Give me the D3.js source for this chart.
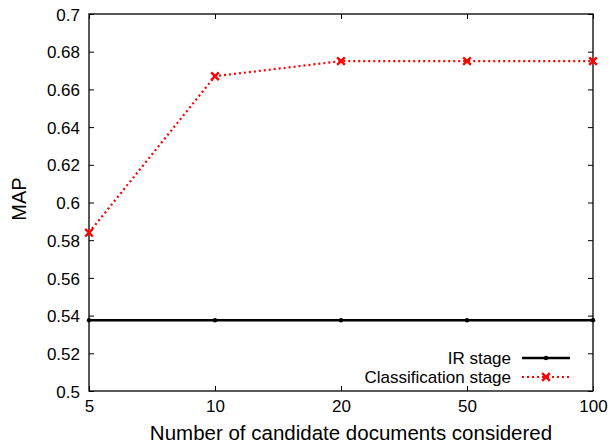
<!DOCTYPE html>
<html>
<head>
<meta charset="utf-8">
<script src="https://cdn.jsdelivr.net/npm/d3@7"></script>
<style>
  body { margin: 0; background: #fff; }
  svg { font-family: "Liberation Sans", Arial, sans-serif; }
</style>
</head>
<body>
<div id="chart"></div>
<script>
        // Data
        const candidates = ["5", "10", "20", "50", "100"];
        const irStage = [0.5375, 0.5375, 0.5375, 0.5375, 0.5375];
        const classificationStage = [0.584, 0.667, 0.675, 0.675, 0.675];
        const yTicks = [0.5, 0.52, 0.54, 0.56, 0.58, 0.6, 0.62, 0.64, 0.66, 0.68, 0.7];

        const width = 612, height = 445, margin = {top: 14, right: 19, bottom: 54, left: 89};

        const svg = d3.select("#chart")
            .append("svg")
            .attr("width", width)
            .attr("height", height);

        // Scales: evenly spaced categories on x, linear MAP on y
        const xScale = d3.scalePoint().domain(candidates).range([margin.left, width - margin.right]);
        const yScale = d3.scaleLinear().domain([0.5, 0.7]).range([height - margin.bottom, margin.top]);

        // Axes with inward ticks, mirrored on top and right
        const tickLen = 5;
        const bottom = svg.append("g").attr("transform", `translate(0,${height - margin.bottom})`)
            .call(d3.axisBottom(xScale).tickSizeInner(-tickLen).tickSizeOuter(0).tickPadding(8));
        const left = svg.append("g").attr("transform", `translate(${margin.left},0)`)
            .call(d3.axisLeft(yScale).tickValues(yTicks).tickFormat(d3.format("")).tickSizeInner(-tickLen).tickSizeOuter(0).tickPadding(9));
        svg.append("g").attr("transform", `translate(0,${margin.top})`)
            .call(d3.axisTop(xScale).tickSizeInner(-tickLen).tickSizeOuter(0).tickFormat(""));
        svg.append("g").attr("transform", `translate(${width - margin.right},0)`)
            .call(d3.axisRight(yScale).tickValues(yTicks).tickSizeInner(-tickLen).tickSizeOuter(0).tickFormat(""));

        svg.selectAll(".domain").remove();
        svg.selectAll(".tick line").attr("stroke", "#000").attr("stroke-width", 1);
        svg.selectAll(".tick text").attr("font-size", 17).attr("fill", "#000")
            .attr("font-family", "Liberation Sans, Arial, sans-serif");
        bottom.selectAll(".tick text").attr("dy", "0.75em");
        left.selectAll(".tick text").attr("dy", "0.36em");

        // Plot border
        svg.append("rect")
            .attr("x", margin.left).attr("y", margin.top)
            .attr("width", width - margin.left - margin.right)
            .attr("height", height - margin.top - margin.bottom)
            .attr("fill", "none").attr("stroke", "#000").attr("stroke-width", 1.3);

        // Axis labels
        svg.append("text").attr("x", 351).attr("y", 440).style("text-anchor", "middle")
            .attr("font-size", 20.5).text("Number of candidate documents considered");
        svg.append("text").attr("transform", "rotate(-90)").attr("y", 26).attr("x", -199)
            .style("text-anchor", "middle").attr("font-size", 20).text("MAP");

        const line = d3.line().x((d, i) => xScale(candidates[i])).y(d => yScale(d));

        // IR stage series
        svg.append("path").datum(irStage).attr("d", line)
            .attr("fill", "none").attr("stroke", "#000").attr("stroke-width", 2.6);
        svg.selectAll(".ir-pt").data(irStage).enter().append("circle")
            .attr("class", "ir-pt")
            .attr("cx", (d, i) => xScale(candidates[i])).attr("cy", d => yScale(d))
            .attr("r", 2.2).attr("fill", "#000");

        // Classification stage series
        const cross = d3.symbol().type(d3.symbolX).size(40);
        svg.append("path").datum(classificationStage).attr("d", line)
            .attr("fill", "none").attr("stroke", "#ff0000").attr("stroke-width", 2.2)
            .attr("stroke-dasharray", "2,3");
        svg.selectAll(".cls-pt").data(classificationStage).enter().append("path")
            .attr("class", "cls-pt")
            .attr("transform", (d, i) => `translate(${xScale(candidates[i])},${yScale(d)})`)
            .attr("d", cross).attr("stroke", "#ff0000").attr("stroke-width", 2.4).attr("fill", "#ff0000");

        // Legend
        const legend = [
            {name: "IR stage", y: 358},
            {name: "Classification stage", y: 377}
        ];
        legend.forEach((l, k) => {
            svg.append("text").attr("x", 511).attr("y", l.y).attr("dy", "0.35em")
                .style("text-anchor", "end").attr("font-size", 17).text(l.name);
            if (k === 0) {
                svg.append("line").attr("x1", 522).attr("x2", 570).attr("y1", l.y).attr("y2", l.y)
                    .attr("stroke", "#000").attr("stroke-width", 2.6);
                svg.append("circle").attr("cx", 546).attr("cy", l.y).attr("r", 2.2).attr("fill", "#000");
            } else {
                svg.append("line").attr("x1", 522).attr("x2", 570).attr("y1", l.y).attr("y2", l.y)
                    .attr("stroke", "#ff0000").attr("stroke-width", 2.2).attr("stroke-dasharray", "2,3");
                svg.append("path").attr("transform", `translate(546,${l.y})`).attr("d", cross)
                    .attr("stroke", "#ff0000").attr("stroke-width", 2.4).attr("fill", "#ff0000");
            }
        });
</script>
</body>
</html>
